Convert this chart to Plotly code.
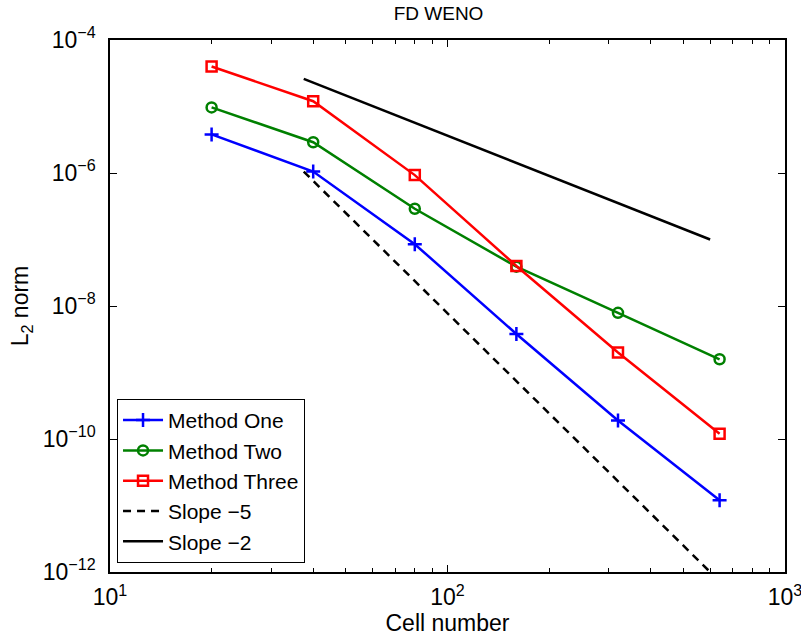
import plotly.graph_objects as go

cells = [20, 40, 80, 160, 320, 640]
method_one = [3.8e-6, 1.05e-6, 8.5e-8, 3.8e-9, 1.9e-10, 1.2e-11]
method_two = [9.7e-6, 2.9e-6, 2.9e-7, 3.9e-8, 7.9e-9, 1.58e-9]
method_three = [4.0e-5, 1.2e-5, 9.3e-7, 4.0e-8, 2.0e-9, 1.2e-10]

ref_x = [37.5, 600]
slope5 = [1.05e-6, 1.0e-12]
slope2 = [2.6e-5, 1.0e-7]

x_tickvals = [10, 100, 1000]
x_ticktext = ["10<sup>1</sup>", "10<sup>2</sup>", "10<sup>3</sup>"]
y_tickvals = [1e-4, 1e-6, 1e-8, 1e-10, 1e-12]
y_ticktext = ["10<sup>\u22124</sup>", "10<sup>\u22126</sup>", "10<sup>\u22128</sup>",
              "10<sup>\u221210</sup>", "10<sup>\u221212</sup>"]

FONT = "Liberation Sans, Arial, Helvetica, sans-serif"

fig = go.Figure()
fig.add_trace(go.Scatter(x=cells, y=method_one, mode="lines+markers", name="Method One",
                         line=dict(color="#0000ff", width=2.5),
                         marker=dict(symbol="cross-thin-open", size=10,
                                     line=dict(color="#0000ff", width=2.5))))
fig.add_trace(go.Scatter(x=cells, y=method_two, mode="lines+markers", name="Method Two",
                         line=dict(color="#008000", width=2.5),
                         marker=dict(symbol="circle-open", size=10,
                                     line=dict(color="#008000", width=2.5))))
fig.add_trace(go.Scatter(x=cells, y=method_three, mode="lines+markers", name="Method Three",
                         line=dict(color="#ff0000", width=2.5),
                         marker=dict(symbol="square-open", size=10,
                                     line=dict(color="#ff0000", width=2.5))))
fig.add_trace(go.Scatter(x=ref_x, y=slope5, mode="lines", name="Slope \u22125",
                         line=dict(color="black", width=2.5, dash="8px,6px")))
fig.add_trace(go.Scatter(x=ref_x, y=slope2, mode="lines", name="Slope \u22122",
                         line=dict(color="black", width=2.5)))

axis_common = dict(showline=True, linecolor="black", linewidth=1.5, mirror="ticks",
                   ticks="inside", ticklen=7, tickwidth=1, tickcolor="black",
                   showgrid=False, zeroline=False, ticklabeloverflow="allow",
                   automargin=False,
                   tickfont=dict(family=FONT, size=23, color="black"))

fig.update_xaxes(type="log", range=[1, 3], tickvals=x_tickvals, ticktext=x_ticktext,
                 ticklabelstandoff=4,
                 title=dict(text="Cell number", font=dict(family=FONT, size=23, color="black"),
                            standoff=0),
                 minor=dict(ticks="inside", ticklen=4, tickcolor="black", dtick="D1",
                            showgrid=False),
                 **axis_common)
fig.update_yaxes(type="log", range=[-12, -4], tickvals=y_tickvals, ticktext=y_ticktext,
                 ticklabelstandoff=8,
                 title=dict(text="L<sub>2</sub> norm", font=dict(family=FONT, size=23, color="black"),
                            standoff=8),
                 **axis_common)

fig.update_layout(
    width=801, height=639,
    margin=dict(l=110, r=16, t=40, b=67),
    paper_bgcolor="white", plot_bgcolor="white",
    title=dict(text="FD WENO", x=0.5475, xanchor="center", y=0.979, yanchor="middle",
               font=dict(family=FONT, size=19, color="black")),
    legend=dict(x=0.0104, y=0.017, xanchor="left", yanchor="bottom",
                bordercolor="black", borderwidth=1, bgcolor="white",
                font=dict(family=FONT, size=21, color="black"),
                tracegroupgap=0, itemwidth=40),
    showlegend=True,
)

fig.write_html("out.html", config={"displayModeBar": False},
               post_script="document.body.style.margin='0';")
